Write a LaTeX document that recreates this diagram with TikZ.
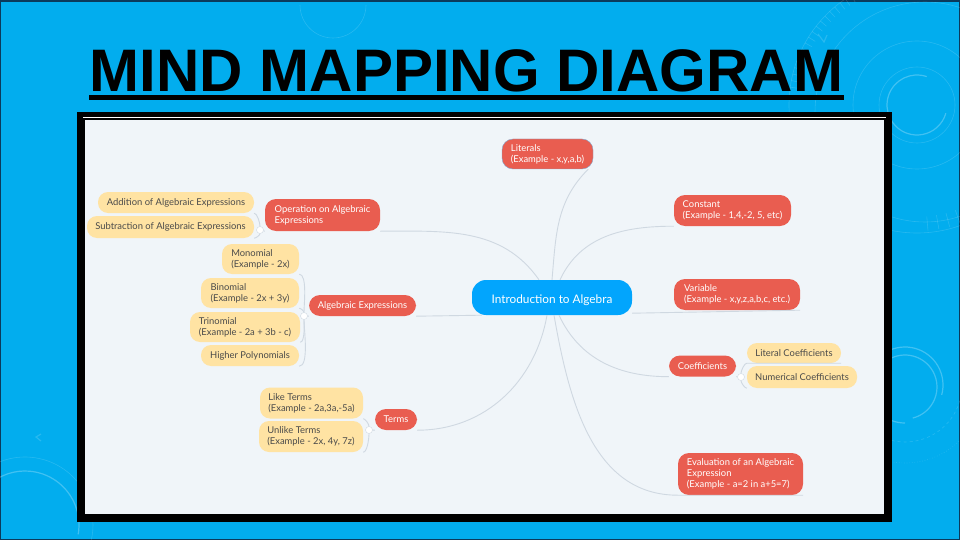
\documentclass[tikz,border=0pt]{standalone}
\usepackage{fontspec}
\setmainfont{Lato}
\newfontfamily\titlefont{Liberation Sans}
\definecolor{slideblue}{HTML}{02ADEE}
\definecolor{slideedge}{HTML}{0B3A5C}
\definecolor{panelgrey}{HTML}{F0F5F9}
\definecolor{rootblue}{HTML}{02A5FD}
\definecolor{topicred}{HTML}{E95D50}
\definecolor{leafyellow}{HTML}{FFE3A3}
\definecolor{leaftext}{HTML}{4A4A4A}
\definecolor{linkgrey}{HTML}{CFD8E1}
\definecolor{selectblue}{HTML}{7FA6CE}
\tikzset{
  root/.style={fill=rootblue, text=white, rounded corners=14pt, inner sep=0pt, text height=14pt, text depth=2pt, font=\fontsize{11.8}{15}\selectfont},
  topic/.style={fill=topicred, text=white, rounded corners=11pt, inner sep=0pt, align=left, font=\fontsize{9.4}{11}\selectfont},
  leaf/.style={fill=leafyellow, text=leaftext, rounded corners=10pt, inner sep=0pt, align=left, font=\fontsize{9.4}{11}\selectfont},
  joint/.style={circle, draw=linkgrey, fill=white, inner sep=0pt, minimum size=7pt},
  link/.style={draw=linkgrey, line width=0.9pt},
  sublink/.style={link, looseness=0.55},
  ring/.style={draw=white, opacity=0.25, line width=1.2pt},
  thinring/.style={draw=white, opacity=0.15, line width=0.6pt}
}
\begin{document}
\begin{tikzpicture}[x=1pt,y=1pt]
  \useasboundingbox (0,0) rectangle (960,-540);
  \fill [slideblue] (0,0) rectangle (960,-540);
  \draw [slideedge, line width=1pt] (0.5,-1) -- (959.5,-1) -- (959.5,-539.5) -- (0.5,-539.5) -- cycle;
  \draw [slideedge, line width=2pt] (0,-1) -- (960,-1);

  \draw [ring] (917,-105) ++(71:30) arc (71:344:30);
  \draw [thinring] (917,-105) circle (38);
  \draw [thinring] (917,-105) circle (64);
  \draw [thinring] (917,-105) circle (128);
  \draw [thinring] (925,-112) circle (110);
  \foreach \a in {100,103,...,172}
    \draw [thinring] (917,-105) ++(\a:120) -- ++(\a:8);
  \foreach \a in {-85,-80,...,-50}
    \draw [thinring] (917,-105) ++(\a:112) -- ++(\a:14);
  \draw [thinring, line width=1.2pt] (818,-34) -- (824,-42) -- (827,-35);
  \draw [ring] (905,-387) ++(120:32) arc (120:-76:32);
  \draw [ring] (905,-385) ++(120:38) arc (120:-15:38);
  \draw [ring] (905,-385) ++(-90:38) arc (-90:-130:38);
  \draw [thinring, dashed] (905,-385) ++(-10:57) arc (-10:-110:57);
  \draw [thinring, dotted] (905,-385) ++(-10:78) arc (-10:-100:78);
  \draw [ring] (25,-525) ++(175:54) arc (175:-10:54);
  \draw [thinring] (25,-525) ++(175:68) arc (175:-15:68);
  \draw [thinring, line width=1.2pt] (41,-434) -- (36,-437) -- (41,-441);
  \draw [thinring] (300,-5) arc (180:360:33);

  \node [font=\titlefont\bfseries\fontsize{60}{60}\selectfont, inner sep=0pt] (title) at (466.5,-70.5) {MIND MAPPING DIAGRAM};
  \fill [black] (89,-95) rectangle (844,-100.5);

  \fill [black] (77,-112) rectangle (892,-522);
  \fill [white] (83,-117) rectangle (886,-118.5);
  \fill [panelgrey] (85,-120) rectangle (884,-514);

  \node [root, minimum width=160pt, minimum height=35pt] (intro) at (552,-297.5) {Introduction to Algebra};

  \node [topic, minimum width=91pt, minimum height=30pt, draw=selectblue] (literals) at (547.5,-154) {Literals\\(Example - x,y,a,b)};
  \node [topic, minimum width=117pt, minimum height=31pt] (constant) at (732.5,-210.5) {Constant\\(Example - 1,4,-2, 5, etc)};
  \node [topic, minimum width=126pt, minimum height=31pt] (variable) at (737,-294.5) {Variable\\(Example - x,y,z,a,b,c, etc.)};
  \node [topic, minimum width=67pt, minimum height=21pt] (coeff) at (702.5,-366) {Coefficients};
  \node [topic, minimum width=125pt, minimum height=42pt] (evaluation) at (740.5,-474) {Evaluation of an Algebraic\\Expression\\(Example - a=2 in a+5=7)};
  \node [topic, minimum width=115pt, minimum height=32pt] (operation) at (322.5,-215) {Operation on Algebraic\\Expressions};
  \node [topic, minimum width=107pt, minimum height=21pt] (algebraic) at (362.5,-305.5) {Algebraic Expressions};
  \node [topic, minimum width=42pt, minimum height=21pt] (terms) at (396,-419.5) {Terms};

  \node [leaf, minimum width=94pt, minimum height=20pt] (literalco) at (794,-353) {Literal Coefficients};
  \node [leaf, minimum width=110pt, minimum height=22pt] (numericalco) at (802,-377) {Numerical Coefficients};
  \node [leaf, minimum width=156pt, minimum height=21pt] (addition) at (176,-202.5) {Addition of Algebraic Expressions};
  \node [leaf, minimum width=167pt, minimum height=22pt] (subtraction) at (170.5,-227) {Subtraction of Algebraic Expressions};
  \node [leaf, minimum width=77pt, minimum height=30pt] (monomial) at (260.5,-259) {Monomial\\(Example - 2x)};
  \node [leaf, minimum width=98pt, minimum height=30pt] (binomial) at (250,-293) {Binomial\\(Example - 2x + 3y)};
  \node [leaf, minimum width=110pt, minimum height=30pt] (trinomial) at (245,-327) {Trinomial\\(Example - 2a + 3b - c)};
  \node [leaf, minimum width=98pt, minimum height=21pt] (higher) at (250,-355.5) {Higher Polynomials};
  \node [leaf, minimum width=103pt, minimum height=31pt] (liketerms) at (311.5,-403) {Like Terms\\(Example - 2a,3a,-5a)};
  \node [leaf, minimum width=104pt, minimum height=31pt] (unliketerms) at (311,-436.5) {Unlike Terms\\(Example - 2x, 4y, 7z)};

  \node [joint] (opjoint) at (260,-230) {};
  \node [joint] (algjoint) at (304,-316) {};
  \node [joint] (termsjoint) at (369,-430) {};
  \node [joint] (coeffjoint) at (741,-377) {};

  \draw [link] ([xshift=-13pt]intro.north) to [out=125,in=0] (operation.south east);
  \draw [link] (intro.north) to [out=85,in=-135] ([xshift=-5pt]literals.south east);
  \draw [link] ([xshift=8pt]intro.north) to [out=65,in=180] (constant.south west);
  \draw [link] ([yshift=2pt]intro.south east) -- (variable.south east);
  \draw [link] ([xshift=10pt]intro.south west) -- (algebraic.south east);
  \draw [link] ([xshift=-5pt]intro.south) to [out=-100,in=0] (terms.south east);
  \draw [link] ([xshift=7pt]intro.south) to [out=-65,in=180] (coeff.south west);
  \draw [link] ([xshift=2pt]intro.south) to [out=-80,in=180] (evaluation.south west) -- (evaluation.south east);

  \draw [link] (opjoint) -- (operation.south west);
  \draw [link] (algjoint) -- (algebraic.south west);
  \draw [link] (termsjoint) -- (terms.south west);
  \draw [link] (coeffjoint) -- (coeff.south east);

  \draw [sublink] (opjoint) to [out=90,in=0] (addition.south east);
  \draw [sublink] (opjoint) to [out=-90,in=0] (subtraction.south east);
  \draw [sublink] (algjoint) to [out=90,in=0] (monomial.south east);
  \draw [sublink] (algjoint) to [out=90,in=0] (binomial.south east);
  \draw [sublink] (algjoint) to [out=-90,in=0] (trinomial.south east);
  \draw [sublink] (algjoint) to [out=-90,in=0] (higher.south east);
  \draw [sublink] (termsjoint) to [out=90,in=0] (liketerms.south east);
  \draw [sublink] (termsjoint) to [out=-90,in=0] (unliketerms.south east);
  \draw [sublink] (coeffjoint) to [out=90,in=180] (literalco.south west) -- (literalco.south east);
  \draw [sublink] (coeffjoint) to [out=-90,in=180] (numericalco.south west);
\end{tikzpicture}
\end{document}
